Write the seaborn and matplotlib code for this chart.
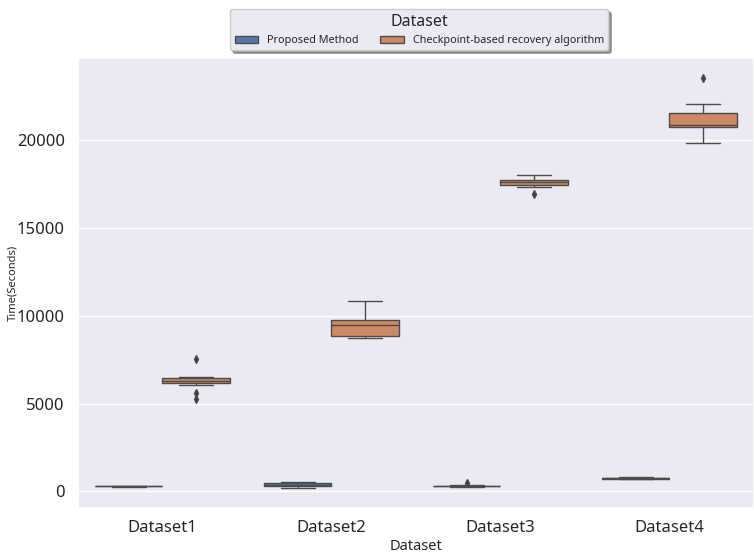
import numpy as np
import pandas as pd
import matplotlib
matplotlib.use("Agg")
import matplotlib.pyplot as plt
import seaborn as sns

datasets = ["Dataset1", "Dataset2", "Dataset3", "Dataset4"]
methods = ["Proposed Method", "Checkpoint-based recovery algorithm"]

proposed_d1 = [270, 280, 285, 290, 295, 298, 300, 302, 305, 310, 315, 320, 330]
proposed_d2 = [220, 240, 260, 280, 300, 340, 380, 400, 430, 450, 470, 500, 520]
proposed_d3 = [250, 260, 270, 280, 285, 290, 300, 310, 320, 330, 335, 340, 470]
proposed_d4 = [700, 710, 715, 720, 730, 740, 750, 755, 765, 780, 785, 790, 800]

checkpoint_d1 = [5250, 5580, 6050, 6150, 6200, 6250, 6280, 6320, 6400, 6450, 6480, 6500, 7550]
checkpoint_d2 = [8720, 8760, 8800, 8850, 9000, 9300, 9500, 9600, 9700, 9750, 9800, 10200, 10830]
checkpoint_d3 = [16920, 17320, 17400, 17480, 17520, 17560, 17600, 17640, 17680, 17720, 17800, 17900, 18000]
checkpoint_d4 = [19830, 20300, 20700, 20780, 20800, 20850, 20880, 21000, 21300, 21550, 21700, 22050, 23530]

groups = {
    ("Dataset1", methods[0]): proposed_d1,
    ("Dataset2", methods[0]): proposed_d2,
    ("Dataset3", methods[0]): proposed_d3,
    ("Dataset4", methods[0]): proposed_d4,
    ("Dataset1", methods[1]): checkpoint_d1,
    ("Dataset2", methods[1]): checkpoint_d2,
    ("Dataset3", methods[1]): checkpoint_d3,
    ("Dataset4", methods[1]): checkpoint_d4,
}
rows = []
for (ds, m), vals in groups.items():
    for v in vals:
        rows.append({"Dataset": ds, "Method": m, "Time": v})
df = pd.DataFrame(rows)

sns.set_theme(style="darkgrid")
plt.rcParams['font.family'] = ['Noto Sans', 'DejaVu Sans']

fig = plt.figure(figsize=(7.54, 5.57), dpi=100)
ax = fig.add_axes([0.1034, 0.088, 0.8966, 0.808])
sns.boxplot(data=df, x="Dataset", y="Time", hue="Method", order=datasets,
            hue_order=methods, palette="deep", ax=ax, fliersize=4,
            flierprops=dict(marker="d", markerfacecolor="#3d3d3d"))
ax.set_xlabel("Dataset", fontsize=10.5, labelpad=2)
ax.set_ylabel("Time(Seconds)", fontsize=8)
ax.yaxis.set_label_coords(-0.088, 0.5)
ax.tick_params(axis="both", labelsize=12)
ax.tick_params(axis="x", pad=3)
ax.set_yticks([0, 5000, 10000, 15000, 20000])
leg = ax.legend(title="Dataset", loc="upper center", bbox_to_anchor=(0.505, 1.12),
                ncol=2, fontsize=7.8, title_fontsize=11.5, shadow=True, frameon=True,
                handlelength=2.2)
leg.get_frame().set_edgecolor("#cccccc")
fig.savefig("out.png", dpi=100)
